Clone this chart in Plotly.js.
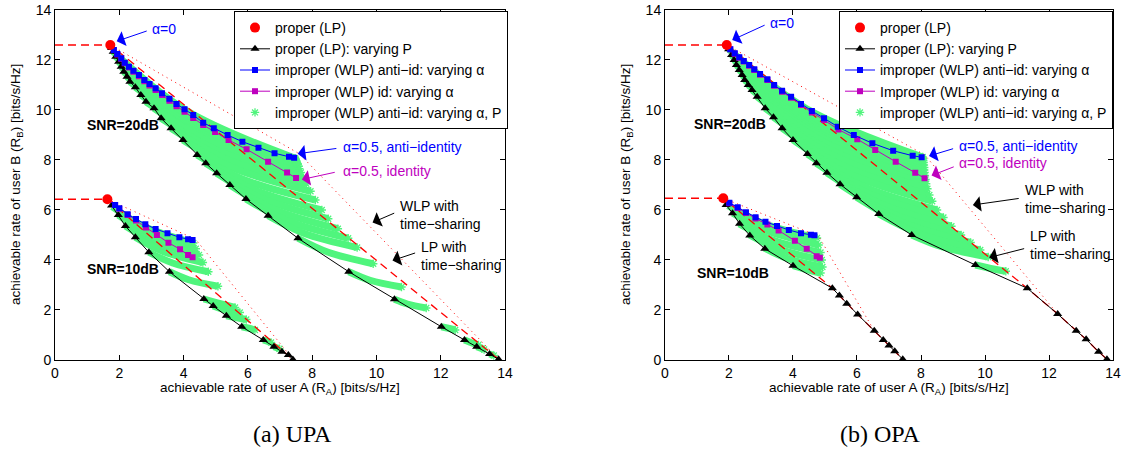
<!DOCTYPE html>
<html><head><meta charset="utf-8">
<script src="https://cdn.plot.ly/plotly-3.0.1.min.js"></script>
<style>body{margin:0;background:#fff}#chart{width:1123px;height:449px}</style>
</head><body><div id="chart"></div><script>
// ---------------- (a) UPA ----------------
const upa_dot_x = [1.72, 1.63];
const upa_dot_y = [12.6, 6.43];
const upa_P20_x = [1.76,1.81,1.89,1.98,2.06,2.14,2.24,2.33,2.50,2.67,2.83,3.08,3.30,3.61,3.98,4.42,4.69,5.03,5.44,5.94,6.63,7.56,9.14,10.56,12.02,12.74,13.12,13.52,13.80];
const upa_P20_y = [12.48,12.33,12.13,11.93,11.73,11.53,11.33,11.13,10.91,10.60,10.33,10.07,9.67,9.27,8.80,8.20,7.87,7.47,7.00,6.44,5.77,4.87,3.53,2.43,1.33,0.80,0.53,0.24,0.03];
const upa_P10_x = [1.76,1.97,2.19,2.50,2.92,3.56,4.63,4.92,5.33,5.81,6.48,6.81,7.06,7.26,7.40];
const upa_P10_y = [6.18,5.80,5.36,4.91,4.31,3.53,2.44,2.16,1.77,1.33,0.80,0.53,0.33,0.20,0.02];
const upa_anti20_x = [1.72,1.83,1.94,2.06,2.17,2.30,2.44,2.61,2.78,2.94,3.13,3.33,3.56,3.78,4.03,4.30,4.61,4.94,5.37,5.83,6.33,6.83,7.28,7.44];
const upa_anti20_y = [12.6,12.4,12.24,12.07,11.89,11.73,11.57,11.4,11.2,11.04,10.87,10.67,10.45,10.24,10.03,9.8,9.49,9.27,9.0,8.73,8.49,8.27,8.13,8.09];
const upa_id20_x = [1.72,1.83,1.94,2.06,2.17,2.30,2.44,2.61,2.78,2.94,3.13,3.33,3.56,3.78,4.03,4.30,4.61,4.98,5.40,5.96,6.63,7.22,7.50];
const upa_id20_y = [12.6,12.4,12.22,12.05,11.87,11.7,11.53,11.35,11.15,10.98,10.8,10.6,10.37,10.15,9.93,9.68,9.4,9.12,8.8,8.43,7.93,7.5,7.28];
const upa_anti10_x = [1.63,1.87,2.00,2.26,2.52,2.81,3.13,3.50,3.87,4.14,4.28];
const upa_anti10_y = [6.43,6.2,6.07,5.83,5.64,5.43,5.24,5.07,4.91,4.83,4.8];
const upa_id10_x = [1.63,1.87,2.00,2.26,2.52,2.83,3.17,3.53,3.89,4.14,4.28];
const upa_id10_y = [6.43,6.2,6.05,5.8,5.58,5.3,5.0,4.69,4.43,4.2,4.11];
const upa_lpts20_x = [0,1.72,13.83];
const upa_lpts20_y = [12.6,12.6,0];
const upa_lpts10_x = [0,1.63,7.42];
const upa_lpts10_y = [6.43,6.43,0];
const upa_wlpts20_x = [1.72,7.6,13.83];
const upa_wlpts20_y = [12.6,8.25,0];
const upa_wlpts10_x = [1.63,4.38,7.42];
const upa_wlpts10_y = [6.43,4.82,0];
const upa_arc20_x = [[1.81,4.07,7.47],[1.89,4.13,7.48],[1.98,4.18,7.49],[2.06,4.24,7.50],[2.14,4.28,7.50],[2.24,4.35,7.52],[2.33,4.41,7.53],[2.50,4.52,7.55],[2.67,4.63,7.58],[2.83,4.74,7.60],[3.08,4.91,7.65],[3.30,5.07,7.72],[3.61,5.29,7.82],[3.98,5.57,7.95],[4.42,5.89,8.10],[4.69,6.13,8.30],[5.03,6.42,8.50],[5.44,6.78,8.80],[5.94,7.21,9.12],[6.63,7.74,9.40],[7.56,8.50,9.90],[9.14,9.80,10.78],[10.56,10.96,11.55],[12.02,12.20,12.45],[12.74,12.91,13.17],[13.12,13.35],[13.52,13.65]];
const upa_arc20_y = [[12.33,9.99,8.07],[12.13,9.87,8.03],[11.93,9.77,8.00],[11.73,9.66,7.97],[11.53,9.56,7.95],[11.33,9.44,7.90],[11.13,9.34,7.87],[10.91,9.21,7.82],[10.60,9.03,7.75],[10.33,8.86,7.65],[10.07,8.66,7.50],[9.67,8.37,7.30],[9.27,8.05,7.05],[8.80,7.67,6.75],[8.20,7.21,6.40],[7.87,6.84,6.00],[7.47,6.47,5.65],[7.00,6.04,5.25],[6.44,5.58,4.87],[5.77,5.07,4.50],[4.87,4.31,3.85],[3.53,3.19,2.92],[2.43,2.24,2.08],[1.33,1.28,1.20],[0.80,0.71,0.60],[0.53,0.42],[0.24,0.18]];
const upa_arc10_x = [[1.78,2.79,4.30],[1.97,2.93,4.38],[2.19,3.11,4.48],[2.50,3.34,4.60],[2.92,3.66,4.77],[3.56,4.16,5.07],[4.63,5.02,5.60],[4.92,5.25,5.75],[5.33,5.60,5.95],[5.81,6.00,6.22],[6.48,6.72],[6.81,6.98]];
const upa_arc10_y = [[6.13,5.33,4.68],[5.80,5.06,4.45],[5.36,4.72,4.20],[4.91,4.35,3.90],[4.31,3.88,3.53],[3.53,3.21,2.95],[2.44,2.30,2.10],[2.16,2.02,1.90],[1.77,1.70,1.62],[1.33,1.28,1.20],[0.80,0.70],[0.53,0.45]];

// ---------------- (b) OPA ----------------
const opa_dot_x = [1.93, 1.82];
const opa_dot_y = [12.6, 6.47];
const opa_P20_x = [1.99,2.08,2.16,2.23,2.32,2.41,2.49,2.60,2.72,2.88,3.13,3.39,3.66,4.00,4.45,4.73,5.06,5.47,5.99,6.68,7.71,9.70,11.32,12.27,12.85,13.16,13.55,13.81];
const opa_P20_y = [12.43,12.2,12.0,11.8,11.6,11.4,11.2,11.0,10.8,10.53,10.07,9.71,9.27,8.8,8.24,7.87,7.49,7.03,6.51,5.84,5.0,3.8,2.87,1.84,1.17,0.83,0.33,0.03];
const opa_P10_x = [1.91,2.11,2.33,2.65,3.12,4.00,5.23,5.45,5.68,6.02,6.54,6.82,7.00,7.18,7.43];
const opa_P10_y = [6.2,5.87,5.45,4.98,4.45,3.77,2.87,2.58,2.25,1.82,1.17,0.8,0.58,0.35,0.03];
const opa_anti20_x = [1.93,2.04,2.18,2.32,2.46,2.63,2.79,2.97,3.20,3.41,3.66,3.94,4.25,4.59,4.97,5.40,5.90,6.48,7.13,7.74,8.02];
const opa_anti20_y = [12.6,12.43,12.27,12.11,11.96,11.8,11.63,11.44,11.23,11.0,10.77,10.53,10.24,9.96,9.67,9.33,9.0,8.67,8.37,8.17,8.11];
const opa_id20_x = [1.93,2.04,2.18,2.32,2.46,2.63,2.79,2.97,3.20,3.41,3.66,3.94,4.25,4.59,4.97,5.42,6.01,6.57,7.21,7.82,8.11];
const opa_id20_y = [12.6,12.43,12.25,12.09,11.94,11.77,11.6,11.41,11.2,10.97,10.73,10.49,10.2,9.9,9.6,9.22,8.83,8.4,7.93,7.49,7.27];
const opa_anti10_x = [1.82,2.01,2.27,2.53,2.83,3.14,3.50,3.87,4.25,4.56,4.67];
const opa_anti10_y = [6.47,6.29,6.11,5.91,5.71,5.53,5.36,5.2,5.07,5.01,4.99];
const opa_id10_x = [1.82,2.01,2.27,2.53,2.83,3.20,3.55,4.06,4.43,4.74,4.84];
const opa_id10_y = [6.47,6.27,6.08,5.88,5.66,5.42,5.18,4.77,4.45,4.15,4.09];
const opa_lpts20_x = [0,1.93,11.32,12.27,12.85,13.16,13.55,13.81];
const opa_lpts20_y = [12.6,12.6,2.87,1.84,1.17,0.83,0.33,0.03];
const opa_lpts10_x = [0,1.82,5.23,5.45,5.68,6.02,6.54,6.82,7.00,7.18,7.43];
const opa_lpts10_y = [6.47,6.47,2.87,2.58,2.25,1.82,1.17,0.8,0.58,0.35,0.03];
const opa_wlpts20_x = [1.93,8.12,12.27,12.85,13.16,13.55,13.81];
const opa_wlpts20_y = [12.6,8.2,1.84,1.17,0.83,0.33,0.03];
const opa_wlpts10_x = [1.82,4.8,6.54,6.82,7.00,7.18,7.43];
const opa_wlpts10_y = [6.47,4.95,1.17,0.8,0.58,0.35,0.03];
const opa_arc20_x = [[1.99,4.41,8.05],[2.08,4.47,8.06],[2.16,4.52,8.07],[2.23,4.57,8.08],[2.32,4.63,8.09],[2.41,4.69,8.10],[2.49,4.73,8.10],[2.60,4.80,8.11],[2.72,4.88,8.12],[2.88,4.98,8.14],[3.13,5.14,8.16],[3.39,5.31,8.20],[3.66,5.50,8.26],[4.00,5.74,8.35],[4.45,6.07,8.50],[4.73,6.32,8.70],[5.06,6.62,8.95],[5.47,6.98,9.25],[5.99,7.41,9.55],[6.68,7.95,9.85],[7.71,8.67,10.10],[9.70,10.08,10.65]];
const opa_arc20_y = [[12.43,10.06,8.12],[12.20,9.92,8.05],[12.00,9.79,7.98],[11.80,9.65,7.90],[11.60,9.51,7.80],[11.40,9.36,7.70],[11.20,9.22,7.60],[11.00,9.07,7.50],[10.80,8.92,7.38],[10.53,8.71,7.22],[10.07,8.41,7.05],[9.71,8.14,6.85],[9.27,7.80,6.60],[8.80,7.45,6.35],[8.24,7.01,6.00],[7.87,6.68,5.70],[7.49,6.31,5.35],[7.03,5.91,5.00],[6.51,5.51,4.70],[5.84,5.05,4.40],[5.00,4.52,4.12],[3.80,3.69,3.55]];
const opa_arc10_x = [[1.97,3.08,4.75],[2.12,3.19,4.80],[2.32,3.34,4.86],[2.64,3.54,4.90],[3.11,3.83,4.92],[4.00,4.34,4.86]];
const opa_arc10_y = [[6.17,5.46,4.88],[5.87,5.17,4.60],[5.44,4.81,4.30],[5.00,4.45,4.00],[4.47,4.06,3.72],[3.77,3.65,3.48]];

// ---------------- labels ----------------
const legendNamesA = ['proper (LP)','proper (LP): varying P','improper (WLP) anti\u2212id: varying \u03b1','improper (WLP) id: varying \u03b1','improper (WLP) anti\u2212id: varying \u03b1, P'];
const legendNamesB = ['proper (LP)','proper (LP): varying P','improper (WLP) anti\u2212id: varying \u03b1','Improper (WLP) id: varying \u03b1','improper (WLP) anti\u2212id: varying \u03b1, P'];
const xTitle = 'achievable rate of user A (R<sub>A</sub>) [bits/s/Hz]';
const yTitle = 'achievable rate of user B (R<sub>B</sub>) [bits/s/Hz]';
const captions = ['(a) UPA','(b) OPA'];
const tickVals = [0,2,4,6,8,10,12,14];

const FONT = 'Liberation Sans, Arial, Helvetica, sans-serif';
const GREEN = 'rgb(80,245,125)';
const BLUE = 'rgb(0,0,255)';
const MAG = 'rgb(190,0,190)';

function cat(a,b){ return a.concat([null], b); }
function flat(arrs){ const o=[]; arrs.forEach((a,i)=>{ if(i) o.push(null); o.push(...a); }); return o; }
function lastOf(arrs){ return arrs.map(a=>a[a.length-1]); }

function panel(D, xa, ya, leg, names){
  const base = {type:'scatter', xaxis:xa, yaxis:ya, legend:leg, hoverinfo:'skip'};
  const t = [];
  t.push(Object.assign({}, base, {mode:'lines', x:cat(flat(D.arc20x),flat(D.arc10x)), y:cat(flat(D.arc20y),flat(D.arc10y)),
    line:{color:GREEN,width:7,shape:'spline',smoothing:1}, showlegend:false, legendgroup:leg+'g', connectgaps:false}));
  t.push(Object.assign({}, base, {mode:'markers', x:cat(lastOf(D.arc20x),lastOf(D.arc10x)), y:cat(lastOf(D.arc20y),lastOf(D.arc10y)),
    marker:{symbol:'asterisk-open',size:7,color:GREEN,line:{color:GREEN,width:1.3}}, name:names[4], legendgroup:leg+'g', legendrank:5}));
  t.push(Object.assign({}, base, {mode:'lines', x:cat(D.lp20x,D.lp10x), y:cat(D.lp20y,D.lp10y),
    line:{color:'red',width:1.3,dash:'8px,5px'}, showlegend:false, connectgaps:false}));
  t.push(Object.assign({}, base, {mode:'lines', x:cat(D.wl20x,D.wl10x), y:cat(D.wl20y,D.wl10y),
    line:{color:'red',width:1,dash:'1px,4px'}, showlegend:false, connectgaps:false}));
  t.push(Object.assign({}, base, {mode:'lines+markers', x:cat(D.p20x,D.p10x), y:cat(D.p20y,D.p10y),
    line:{color:'black',width:1}, marker:{symbol:'triangle-up',size:8,color:'black'}, name:names[1], legendrank:2, connectgaps:false}));
  t.push(Object.assign({}, base, {mode:'lines+markers', x:cat(D.id20x,D.id10x), y:cat(D.id20y,D.id10y),
    line:{color:MAG,width:1}, marker:{symbol:'square',size:6,color:MAG}, name:names[3], legendrank:4, connectgaps:false}));
  t.push(Object.assign({}, base, {mode:'lines+markers', x:cat(D.an20x,D.an10x), y:cat(D.an20y,D.an10y),
    line:{color:BLUE,width:1}, marker:{symbol:'square',size:6,color:BLUE}, name:names[2], legendrank:3, connectgaps:false}));
  t.push(Object.assign({}, base, {mode:'markers', x:D.dotx, y:D.doty,
    marker:{symbol:'circle',size:10,color:'red'}, name:names[0], legendrank:1}));
  return t;
}

const A = {dotx:upa_dot_x,doty:upa_dot_y,p20x:upa_P20_x,p20y:upa_P20_y,p10x:upa_P10_x,p10y:upa_P10_y,
  an20x:upa_anti20_x,an20y:upa_anti20_y,an10x:upa_anti10_x,an10y:upa_anti10_y,id20x:upa_id20_x,id20y:upa_id20_y,id10x:upa_id10_x,id10y:upa_id10_y,
  lp20x:upa_lpts20_x,lp20y:upa_lpts20_y,lp10x:upa_lpts10_x,lp10y:upa_lpts10_y,wl20x:upa_wlpts20_x,wl20y:upa_wlpts20_y,wl10x:upa_wlpts10_x,wl10y:upa_wlpts10_y,
  arc20x:upa_arc20_x,arc20y:upa_arc20_y,arc10x:upa_arc10_x,arc10y:upa_arc10_y};
const B = {dotx:opa_dot_x,doty:opa_dot_y,p20x:opa_P20_x,p20y:opa_P20_y,p10x:opa_P10_x,p10y:opa_P10_y,
  an20x:opa_anti20_x,an20y:opa_anti20_y,an10x:opa_anti10_x,an10y:opa_anti10_y,id20x:opa_id20_x,id20y:opa_id20_y,id10x:opa_id10_x,id10y:opa_id10_y,
  lp20x:opa_lpts20_x,lp20y:opa_lpts20_y,lp10x:opa_lpts10_x,lp10y:opa_lpts10_y,wl20x:opa_wlpts20_x,wl20y:opa_wlpts20_y,wl10x:opa_wlpts10_x,wl10y:opa_wlpts10_y,
  arc20x:opa_arc20_x,arc20y:opa_arc20_y,arc10x:opa_arc10_x,arc10y:opa_arc10_y};

const traces = panel(A,'x','y','legend',legendNamesA).concat(panel(B,'x2','y2','legend2',legendNamesB));

function ax(domain, anchor){
  return {domain:domain, anchor:anchor, range:[0,14], tickvals:tickVals, ticks:'inside', ticklen:5, tickcolor:'black',
    mirror:'ticks', showline:true, linecolor:'black', linewidth:1, showgrid:false, zeroline:false,
    tickfont:{family:FONT,size:14,color:'black'}, fixedrange:true};
}
const YD = [0.19822, 0.97773];
const XD1 = [0.04898, 0.44969], XD2 = [0.59216, 0.99110];
const FS = 14;

function txt(xr, yr, x, y, text, color, opts){
  return Object.assign({xref:xr, yref:yr, x:x, y:y, text:text, showarrow:false, xanchor:'left', yanchor:'middle',
    font:{family:FONT,size:FS,color:color}}, opts||{});
}
function arrow(xr, yr, tx, ty, hx, hy, color){
  return {xref:xr, yref:yr, axref:xr, ayref:yr, x:hx, y:hy, ax:tx, ay:ty, text:'', showarrow:true,
    arrowhead:1, arrowsize:2.6, arrowwidth:1, arrowcolor:color, standoff:0, startstandoff:0};
}
const boldF = {family:FONT,size:14,color:'black'};
const titleF = {family:FONT,size:13.5,color:'black'};
const capF = {family:'Liberation Serif, DejaVu Serif, serif',size:24,color:'black'};
const anns = [
  // UPA
  txt('x','y',2.94,13.23,'\u03b1=0',BLUE), arrow('x','y',2.9,13.18,1.92,12.75,BLUE),
  txt('x','y',8.89,8.53,'\u03b1=0.5, anti\u2212identity',BLUE), arrow('x','y',8.8,8.47,7.55,8.25,BLUE),
  txt('x','y',8.89,7.57,'\u03b1=0.5, identity',MAG), arrow('x','y',8.75,7.52,7.68,7.22,MAG),
  txt('x','y',10.67,5.81,'WLP with<br>time\u2212sharing','black',{align:'left'}), arrow('x','y',10.6,5.9,9.88,5.5,'black'),
  txt('x','y',11.33,4.14,'LP with<br>time\u2212sharing','black',{align:'left'}), arrow('x','y',11.25,4.3,10.5,3.98,'black'),
  txt('x','y',2.13,9.4,'<b>SNR=20dB</b>','black',{xanchor:'center',font:boldF}),
  txt('x','y',2.13,3.63,'<b>SNR=10dB</b>','black',{xanchor:'center',font:boldF}),
  // OPA
  txt('x2','y2',3.22,13.49,'\u03b1=0',BLUE), arrow('x2','y2',3.16,13.42,2.1,12.8,BLUE),
  txt('x2','y2',9.14,8.57,'\u03b1=0.5, anti\u2212identity',BLUE), arrow('x2','y2',9.05,8.47,8.25,8.16,BLUE),
  txt('x2','y2',9.14,7.87,'\u03b1=0.5, identity',MAG), arrow('x2','y2',9.07,7.75,8.33,7.38,MAG),
  txt('x2','y2',11.2,6.45,'WLP with<br>time\u2212sharing','black',{align:'left'}), arrow('x2','y2',11.1,6.47,9.62,6.2,'black'),
  txt('x2','y2',11.35,4.58,'LP with<br>time\u2212sharing','black',{align:'left'}), arrow('x2','y2',11.27,4.47,10.13,4.1,'black'),
  txt('x2','y2',2.04,9.44,'<b>SNR=20dB</b>','black',{xanchor:'center',font:boldF}),
  txt('x2','y2',2.12,3.47,'<b>SNR=10dB</b>','black',{xanchor:'center',font:boldF}),
  // axis titles
  txt('paper','paper',280/1123,(449-389)/449,xTitle,'black',{xanchor:'center',font:titleF}),
  txt('paper','paper',889/1123,(449-389)/449,xTitle,'black',{xanchor:'center',font:titleF}),
  txt('paper','paper',16/1123,(449-185)/449,yTitle,'black',{xanchor:'center',textangle:-90,font:titleF}),
  txt('paper','paper',626/1123,(449-185)/449,yTitle,'black',{xanchor:'center',textangle:-90,font:titleF}),
  // captions
  txt('paper','paper',292/1123,(449-434)/449,captions[0],'black',{xanchor:'center',font:capF}),
  txt('paper','paper',880/1123,(449-434)/449,captions[1],'black',{xanchor:'center',font:capF})
];

function legendCfg(xr){
  return {x:xr, xanchor:'right', y:0.9755, yanchor:'top', bgcolor:'white', bordercolor:'black', borderwidth:1,
    font:{family:FONT,size:14,color:'black'}, tracegroupgap:0, traceorder:'normal'};
}

const layout = {
  width:1123, height:449, margin:{l:0,r:0,t:0,b:0}, paper_bgcolor:'white', plot_bgcolor:'white',
  showlegend:true,
  xaxis:ax(XD1,'y'), yaxis:ax(YD,'x'), xaxis2:ax(XD2,'y2'), yaxis2:ax(YD,'x2'),
  legend:legendCfg(508/1123), legend2:legendCfg(1113/1123),
  annotations:anns
};
Plotly.newPlot('chart', traces, layout, {displayModeBar:false, staticPlot:true});
</script></body></html>
